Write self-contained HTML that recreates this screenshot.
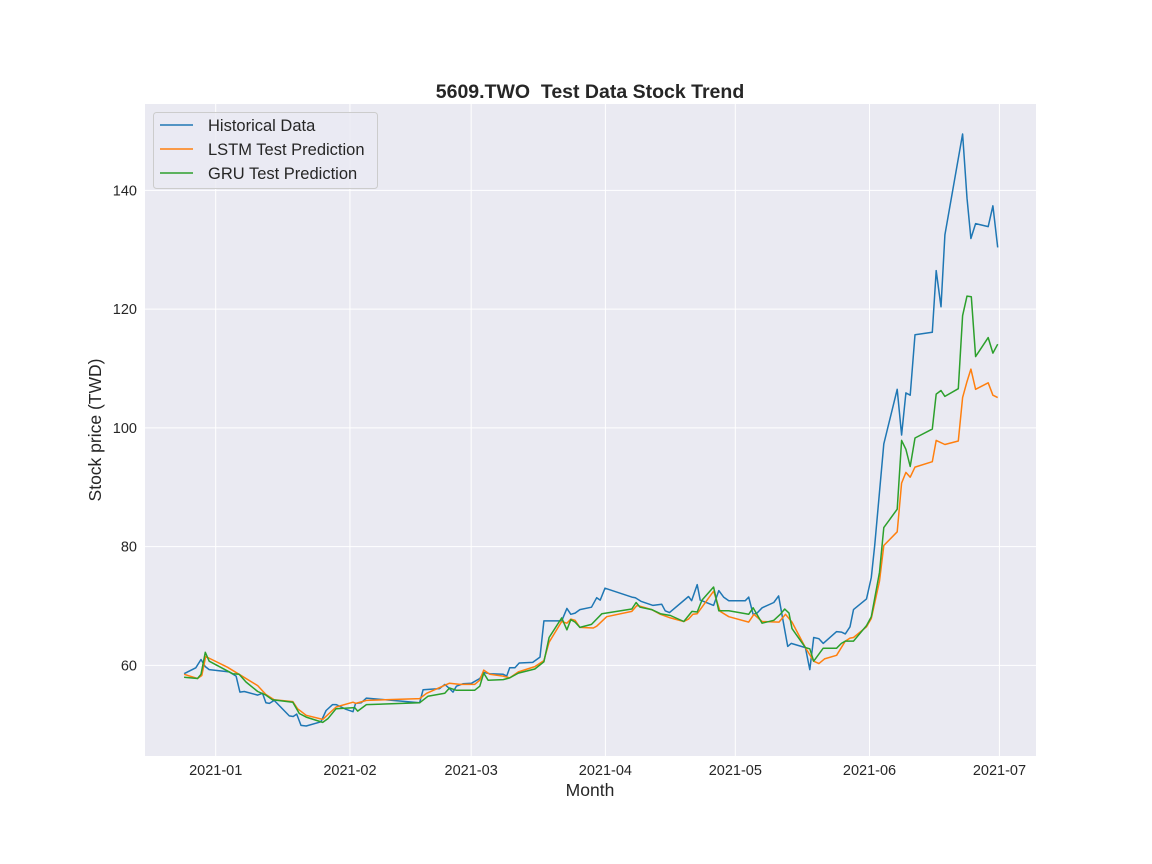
<!DOCTYPE html>
<html><head><meta charset="utf-8"><title>5609.TWO Test Data Stock Trend</title>
<style>
html,body{margin:0;padding:0;background:#fff;}
svg{display:block;font-family:"Liberation Sans",Arial,sans-serif;}
</style></head>
<body>
<svg id="chart" width="1152" height="864" viewBox="0 0 1152 864" xmlns="http://www.w3.org/2000/svg">
  <rect x="0" y="0" width="1152" height="864" fill="#ffffff"/>
  <rect x="145" y="104" width="891" height="652" fill="#eaeaf2"/>
  <g id="grid"></g>
  <g id="series"></g>
  <g id="ticks"></g>
  <text x="590" y="98" text-anchor="middle" font-size="19.5" font-weight="bold" fill="#262626" style="white-space:pre">5609.TWO  Test Data Stock Trend</text>
  <text x="590" y="796" text-anchor="middle" font-size="17.5" fill="#262626">Month</text>
  <text transform="translate(101,430) rotate(-90)" text-anchor="middle" font-size="17.5" fill="#262626">Stock price (TWD)</text>
  <g>
    <rect x="153.5" y="112.5" width="224" height="76" rx="3" fill="#eaeaf2" fill-opacity="0.8" stroke="#cccccc"/>
    <g>
      <line x1="160" y1="125" x2="193" y2="125" stroke="#1f77b4" stroke-width="1.5"/>
      <text x="208" y="131" font-size="16.5" fill="#262626">Historical Data</text>
    </g>
    <g>
      <line x1="160" y1="149" x2="193" y2="149" stroke="#ff7f0e" stroke-width="1.5"/>
      <text x="208" y="155" font-size="16.5" fill="#262626">LSTM Test Prediction</text>
    </g>
    <g>
      <line x1="160" y1="173" x2="193" y2="173" stroke="#2ca02c" stroke-width="1.5"/>
      <text x="208" y="179" font-size="16.5" fill="#262626">GRU Test Prediction</text>
    </g>
  </g>
</svg>
<script>
// Day numbers measured from 2020-12-29 (shifted to Jan-1 based days below)
const DAY_SHIFT = -2.9;
const histDays = [-4.4,-1.7,-0.5,0.5,1.4,6.0,7.6,8.5,9.5,12.6,13.7,14.5,15.3,16.4,19.9,20.8,21.6,22.6,23.8,27.2,28.4,29.9,30.7,33.0,34.6,35.2,36.5,37.7,50.0,50.8,54.6,55.8,56.9,57.7,58.5,60.0,62.0,63.9,64.8,66.2,69.3,70.1,70.8,72.0,73.0,76.1,77.8,78.7,82.8,84.0,84.9,85.9,87.0,89.7,90.9,91.7,92.8,99.0,99.8,101.1,103.9,105.9,106.7,107.7,112.1,112.8,114.1,114.8,117.9,119.1,120.2,121.4,125.2,126.0,127.0,127.9,129.1,131.8,132.9,135.0,135.8,139.1,140.1,141.0,142.2,143.2,146.3,147.4,148.3,149.4,150.2,153.2,154.3,155.1,156.2,157.2,160.3,161.3,162.3,163.3,164.4,168.4,169.3,170.4,171.3,175.4,176.4,177.3,178.4,181.3,182.4,183.5];
const histValues = [58.6,59.6,61.0,59.8,59.3,58.9,58.2,55.5,55.6,55.0,55.3,53.7,53.6,54.1,51.5,51.4,51.8,49.9,49.8,50.5,52.4,53.4,53.4,52.6,52.2,53.6,53.7,54.5,53.7,55.9,56.1,56.8,56.1,55.5,56.5,56.9,57.0,57.8,58.8,58.6,58.5,58.2,59.6,59.6,60.4,60.5,61.4,67.5,67.5,69.6,68.6,68.8,69.4,69.8,71.4,71.0,73.0,71.5,71.4,70.8,70.1,70.3,69.2,68.9,71.6,70.9,73.6,71.0,70.1,72.6,71.5,70.9,70.9,71.5,68.6,68.8,69.7,70.6,71.7,63.2,63.7,63.0,59.3,64.7,64.5,63.7,65.7,65.6,65.3,66.5,69.4,71.2,74.8,80.2,89.2,97.3,106.5,98.8,105.9,105.5,115.7,116.1,126.5,120.4,132.5,149.5,138.7,131.9,134.4,133.9,137.4,130.4];
const lstmDays = [-4.4,-1.3,-0.3,0.6,5.6,8.3,12.6,14.5,16.4,20.7,21.8,23.8,27.6,30.7,34.6,35.3,37.7,50.0,51.6,56.9,59.3,62.7,63.9,64.8,66.2,69.3,70.8,72.8,76.6,78.7,79.9,82.8,84.0,84.9,85.9,87.0,90.1,90.9,93.2,99.0,100.2,103.6,105.6,107.9,111.0,112.1,113.1,114.1,117.9,119.4,121.4,126.0,127.2,129.1,133.0,134.5,136.0,139.1,141.0,142.2,143.5,146.3,148.3,149.4,150.2,153.2,154.3,156.2,157.2,160.3,161.3,162.3,163.3,164.4,168.4,169.3,171.3,174.4,175.4,176.4,177.3,178.4,181.3,182.4,183.5];
const lstmValues = [58.5,57.8,58.3,61.5,59.7,58.5,56.6,55.1,54.2,53.9,52.7,51.6,50.9,53.0,53.8,53.6,54.1,54.4,55.3,57.0,56.8,56.8,57.5,59.2,58.5,58.2,57.9,58.9,59.8,60.8,63.9,67.4,67.1,67.8,67.6,66.4,66.3,66.6,68.2,69.1,70.1,69.4,68.6,68.0,67.4,67.8,68.6,68.7,72.5,69.1,68.2,67.3,68.6,67.4,67.3,68.6,67.3,63.0,60.7,60.3,61.1,61.7,64.1,64.6,64.7,66.5,67.9,74.2,80.2,82.5,90.7,92.5,91.7,93.4,94.3,97.9,97.2,97.8,105.1,107.8,109.9,106.5,107.6,105.5,105.1];
const gruDays = [-4.4,-1.3,-0.5,0.5,1.4,6.8,8.3,9.9,12.6,14.5,16.0,20.7,22.2,23.8,27.6,28.8,30.7,35.0,35.7,37.7,50.0,51.9,55.8,56.9,58.5,62.7,63.9,64.8,65.8,69.3,70.8,72.8,76.6,78.7,79.9,82.8,84.0,84.9,85.9,87.0,89.7,92.1,99.0,100.0,100.9,103.6,105.6,107.9,111.0,112.9,114.1,115.2,117.9,119.1,121.4,126.0,127.0,129.1,131.8,133.3,134.3,135.3,136.0,139.1,140.1,141.0,143.2,146.3,147.4,148.3,150.2,153.2,154.3,156.2,157.2,160.3,161.3,162.3,163.3,164.4,168.4,169.3,170.4,171.3,174.4,175.4,176.4,177.4,178.4,181.3,182.4,183.5];
const gruValues = [58.0,57.8,58.5,62.2,60.7,58.6,58.5,57.2,55.6,55.0,54.2,53.8,51.9,51.3,50.4,51.0,52.7,52.9,52.3,53.4,53.7,54.8,55.3,56.2,55.8,55.8,56.5,58.7,57.5,57.6,57.9,58.7,59.4,60.6,64.7,68.0,66.0,67.7,67.3,66.4,66.9,68.7,69.5,70.6,69.8,69.4,68.7,68.4,67.4,69.1,69.0,71.0,73.2,69.2,69.2,68.6,69.7,67.1,67.6,68.6,69.5,68.8,66.2,63.0,62.8,60.7,62.9,62.9,63.7,64.1,64.1,66.7,68.2,75.7,83.2,86.3,97.9,96.4,93.5,98.3,99.8,105.7,106.3,105.3,106.6,118.9,122.2,122.1,112.0,115.2,112.6,114.1];
const xTickDays = [0,31,59,90,120,151,181];
const xTickLabels = ["2021-01","2021-02","2021-03","2021-04","2021-05","2021-06","2021-07"];
const yTickValues = [60,80,100,120,140];

const NS = "http://www.w3.org/2000/svg";
const PL = 145, PR = 1036, PT = 104, PB = 756;
function xScale(d){ return 215.7 + d * 4.33; }
function yScale(v){ return 665.4 - (v - 60) * 5.9375; }

const grid = document.getElementById('grid');
const ticks = document.getElementById('ticks');
xTickDays.forEach((d, i) => {
  const x = xScale(d);
  const l = document.createElementNS(NS, 'line');
  l.setAttribute('x1', x); l.setAttribute('x2', x);
  l.setAttribute('y1', PT); l.setAttribute('y2', PB);
  l.setAttribute('stroke', '#ffffff'); l.setAttribute('stroke-width', '1');
  
  
  grid.appendChild(l);
  const t = document.createElementNS(NS, 'text');
  t.setAttribute('x', x); t.setAttribute('y', 775);
  t.setAttribute('text-anchor', 'middle'); t.setAttribute('font-size', '14.5');
  t.setAttribute('fill', '#262626');
  t.textContent = xTickLabels[i];
  
  
  ticks.appendChild(t);
});
yTickValues.forEach(v => {
  const y = yScale(v);
  const l = document.createElementNS(NS, 'line');
  l.setAttribute('x1', PL); l.setAttribute('x2', PR);
  l.setAttribute('y1', y); l.setAttribute('y2', y);
  l.setAttribute('stroke', '#ffffff'); l.setAttribute('stroke-width', '1');
  
  
  grid.appendChild(l);
  const t = document.createElementNS(NS, 'text');
  t.setAttribute('x', 137); t.setAttribute('y', y + 5);
  t.setAttribute('text-anchor', 'end'); t.setAttribute('font-size', '14.5');
  t.setAttribute('fill', '#262626');
  t.textContent = String(v);
  
  
  ticks.appendChild(t);
});

const series = document.getElementById('series');
function drawLine(days, values, color, name){
  const pts = days.map((d, i) => xScale(d + DAY_SHIFT).toFixed(1) + ',' + yScale(values[i]).toFixed(1)).join(' ');
  const p = document.createElementNS(NS, 'polyline');
  p.setAttribute('points', pts);
  p.setAttribute('fill', 'none');
  p.setAttribute('stroke', color);
  p.setAttribute('stroke-width', '1.5');
  p.setAttribute('stroke-linejoin', 'round');
  
  
  series.appendChild(p);
}
drawLine(histDays, histValues, '#1f77b4', 'historical-data-line');
drawLine(lstmDays, lstmValues, '#ff7f0e', 'lstm-prediction-line');
drawLine(gruDays, gruValues, '#2ca02c', 'gru-prediction-line');
</script>
</body></html>
